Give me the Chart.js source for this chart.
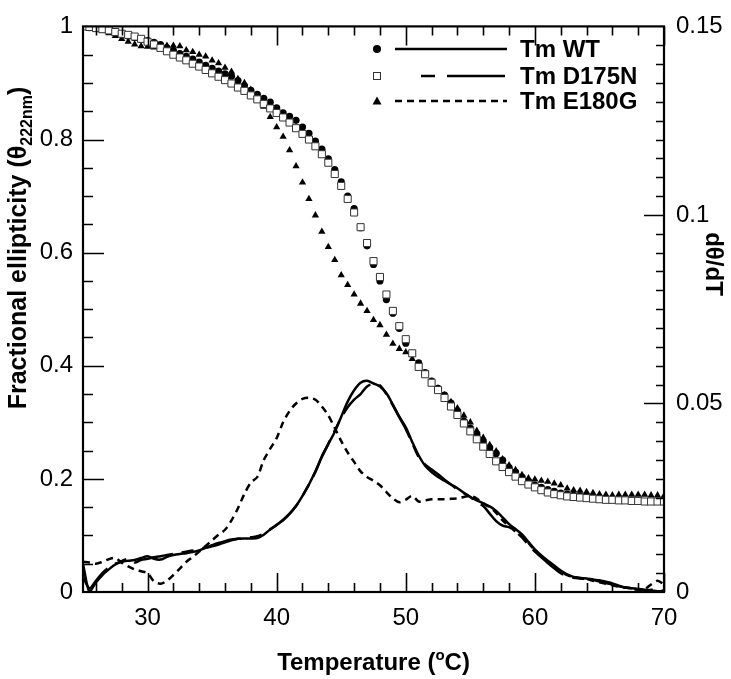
<!DOCTYPE html>
<html>
<head>
<meta charset="utf-8">
<title>Thermal unfolding</title>
<script src="https://cdn.jsdelivr.net/npm/chart.js@4.4.0/dist/chart.umd.min.js"></script>
<style>
  html, body { margin: 0; padding: 0; background: #fff; }
  #wrap { width: 731px; height: 679px; }
</style>
</head>
<body>
<div id="wrap"><canvas id="meltChart" width="731" height="679"></canvas></div>
<script>
// Temperature (°C), 0.5 degree steps
const temps = [
    25, 25.5, 26, 26.5, 27, 27.5, 28, 28.5, 29, 29.5,
    30, 30.5, 31, 31.5, 32, 32.5, 33, 33.5, 34, 34.5,
    35, 35.5, 36, 36.5, 37, 37.5, 38, 38.5, 39, 39.5,
    40, 40.5, 41, 41.5, 42, 42.5, 43, 43.5, 44, 44.5,
    45, 45.5, 46, 46.5, 47, 47.5, 48, 48.5, 49, 49.5,
    50, 50.5, 51, 51.5, 52, 52.5, 53, 53.5, 54, 54.5,
    55, 55.5, 56, 56.5, 57, 57.5, 58, 58.5, 59, 59.5,
    60, 60.5, 61, 61.5, 62, 62.5, 63, 63.5, 64, 64.5,
    65, 65.5, 66, 66.5, 67, 67.5, 68, 68.5, 69, 69.5,
    70
];

// Fractional ellipticity (left axis)
const wtFrac = [
    1.0, 0.998, 0.997, 0.995, 0.993, 0.99, 0.986, 0.983, 0.98, 0.977,
    0.975, 0.972, 0.968, 0.962, 0.957, 0.952, 0.947, 0.942, 0.937, 0.931,
    0.926, 0.921, 0.916, 0.912, 0.904, 0.895, 0.887, 0.88, 0.873, 0.866,
    0.856, 0.847, 0.841, 0.834, 0.822, 0.811, 0.797, 0.783, 0.766, 0.747,
    0.725, 0.70, 0.678, 0.644, 0.612, 0.579, 0.55, 0.517, 0.493, 0.466,
    0.44, 0.422, 0.405, 0.388, 0.373, 0.36, 0.348, 0.334, 0.32, 0.302,
    0.29, 0.279, 0.266, 0.255, 0.245, 0.233, 0.22, 0.212, 0.203, 0.196,
    0.189, 0.185, 0.181, 0.178, 0.175, 0.173, 0.171, 0.17, 0.168, 0.167,
    0.166, 0.165, 0.164, 0.163, 0.162, 0.161, 0.161, 0.16, 0.16, 0.16,
    0.16
];
const d175nFrac = [
    1.0, 0.999, 0.997, 0.995, 0.993, 0.99, 0.987, 0.985, 0.982, 0.978,
    0.973, 0.968, 0.962, 0.956, 0.95, 0.945, 0.94, 0.934, 0.929, 0.923,
    0.917, 0.911, 0.905, 0.899, 0.892, 0.886, 0.878, 0.871, 0.863, 0.855,
    0.847, 0.839, 0.83, 0.82, 0.81, 0.80, 0.788, 0.774, 0.759, 0.739,
    0.718, 0.695, 0.671, 0.645, 0.617, 0.585, 0.557, 0.526, 0.497, 0.47,
    0.447, 0.422, 0.398, 0.385, 0.37, 0.357, 0.343, 0.328, 0.313, 0.298,
    0.284, 0.27, 0.257, 0.244, 0.231, 0.221, 0.212, 0.204, 0.196, 0.19,
    0.185, 0.18, 0.176, 0.173, 0.171, 0.169, 0.168, 0.167, 0.166, 0.165,
    0.164, 0.163, 0.163, 0.162, 0.162, 0.161, 0.161, 0.16, 0.16, 0.16,
    0.16
];
const e180gFrac = [
    1.0, 0.998, 0.995, 0.992, 0.988, 0.983, 0.978, 0.973, 0.968, 0.965,
    0.964, 0.963, 0.965, 0.966, 0.966, 0.965, 0.958, 0.955, 0.95, 0.947,
    0.94, 0.935, 0.927, 0.92, 0.907, 0.9, 0.888, 0.876, 0.858, 0.84,
    0.822, 0.805, 0.781, 0.753, 0.724, 0.695, 0.666, 0.637, 0.61, 0.587,
    0.56, 0.543, 0.526, 0.51, 0.497, 0.481, 0.472, 0.455, 0.439, 0.43,
    0.424, 0.412, 0.398, 0.385, 0.372, 0.36, 0.348, 0.336, 0.325, 0.312,
    0.30, 0.285, 0.273, 0.26, 0.249, 0.235, 0.224, 0.216, 0.207, 0.201,
    0.199, 0.197, 0.195, 0.192, 0.189, 0.183, 0.18, 0.179, 0.177, 0.175,
    0.173, 0.172, 0.171, 0.172, 0.172, 0.172, 0.172, 0.172, 0.171, 0.171,
    0.17
];

// dθ/dT (right axis)
const wtDeriv = [
    0.0075, 0.0, 0.0025, 0.0045, 0.006, 0.0073, 0.008, 0.0083, 0.0085, 0.009,
    0.0095, 0.0088, 0.0086, 0.0093, 0.0098, 0.0101, 0.0103, 0.0106, 0.011, 0.0117,
    0.0121, 0.0126, 0.0132, 0.0137, 0.0141, 0.0142, 0.0142, 0.0143, 0.0152, 0.0166,
    0.0178, 0.019, 0.0207, 0.0228, 0.0255, 0.0285, 0.032, 0.0358, 0.0392, 0.0425,
    0.0465, 0.0505, 0.0535, 0.0555, 0.056, 0.0553, 0.0545, 0.0527, 0.0497, 0.0465,
    0.0437, 0.0398, 0.0362, 0.0335, 0.0318, 0.0305, 0.0295, 0.0285, 0.0275, 0.0263,
    0.0252, 0.0243, 0.0235, 0.0227, 0.0215, 0.0198, 0.018, 0.0167, 0.0153, 0.0133,
    0.0113, 0.0097, 0.0083, 0.007, 0.0057, 0.0047, 0.004, 0.0037, 0.0036, 0.0033,
    0.0031, 0.0027, 0.0023, 0.0017, 0.0012, 0.001, 0.0008, 0.0006, 0.0004, 0.0002,
    0.0003
];
const d175nDeriv = [
    0.004, 0.001, 0.003, 0.005, 0.0065, 0.0075, 0.0082, 0.0088, 0.0078, 0.0085,
    0.0088, 0.0092, 0.0095, 0.0098, 0.0101, 0.0104, 0.0107, 0.011, 0.0114, 0.0118,
    0.0124, 0.013, 0.0135, 0.0139, 0.0141, 0.0143, 0.0145, 0.0148, 0.0155, 0.0166,
    0.0178, 0.0192, 0.0208, 0.0228, 0.0255, 0.0285, 0.0318, 0.036, 0.0393, 0.0428,
    0.0462, 0.049, 0.051, 0.0525, 0.0545, 0.0552, 0.0548, 0.0525, 0.0495, 0.0463,
    0.0432, 0.0395, 0.0358, 0.0338, 0.0325, 0.0312, 0.0298, 0.0285, 0.0272, 0.0262,
    0.0252, 0.0238, 0.0228, 0.0208, 0.0188, 0.0176, 0.0172, 0.016, 0.0145, 0.0125,
    0.0107, 0.0092, 0.0077, 0.0063, 0.005, 0.0043, 0.0038, 0.0036, 0.0034, 0.0032,
    0.0028, 0.0024, 0.002, 0.0015, 0.0012, 0.001, 0.0008, 0.0004, 0.0006, 0.0004,
    0.0003
];
const e180gDeriv = [
    0.008, 0.0078, 0.0075, 0.008, 0.0087, 0.009, 0.0078, 0.0068, 0.006, 0.0055,
    0.005, 0.0028, 0.0022, 0.003, 0.0045, 0.0062, 0.008, 0.0093, 0.0107, 0.0122,
    0.0137, 0.0152, 0.0165, 0.019, 0.0222, 0.026, 0.029, 0.0305, 0.035, 0.038,
    0.0408, 0.045, 0.048, 0.050, 0.0512, 0.0515, 0.051, 0.0492, 0.0468, 0.0435,
    0.04, 0.037, 0.0345, 0.032, 0.0305, 0.0295, 0.0283, 0.0265, 0.0248, 0.0238,
    0.0245, 0.0255, 0.024, 0.0243, 0.0246, 0.0246, 0.0246, 0.0247, 0.0248, 0.0252,
    0.0255, 0.0248, 0.0235, 0.0225, 0.021, 0.019, 0.0175, 0.016, 0.0148, 0.013,
    0.011, 0.0095, 0.008, 0.0066, 0.0055, 0.0045, 0.004, 0.0037, 0.0034, 0.003,
    0.0026, 0.0022, 0.0018, 0.0014, 0.0012, 0.0009, 0.0006, 0.0008, 0.002, 0.003,
    0.002
];

const xTicks = [30, 40, 50, 60, 70];
const leftTicks = [0, 0.2, 0.4, 0.6, 0.8, 1];
const rightTicks = [0, 0.05, 0.1, 0.15];
const legendLabels = ["Tm WT", "Tm D175N", "Tm E180G"];

const FONT = "'Liberation Sans', Arial, sans-serif";
const toPoints = (ys) => temps.map((t, i) => ({ x: t, y: ys[i] }));

// inward ticks on all four sides + frame
const frameTicks = {
    id: "frameTicks",
    afterDraw(chart) {
        const { ctx, chartArea: a, scales } = chart;
        ctx.save();
        ctx.strokeStyle = "#000";
        ctx.lineWidth = 1.6;
        ctx.beginPath();
        // x: minor every 2, major every 10
        for (let i = 13; i <= 35; i++) {
            const px = Math.round(scales.x.getPixelForValue(i * 2)) + 0.5;
            const len = (i * 2) % 10 === 0 ? 19 : 9;
            ctx.moveTo(px, a.bottom); ctx.lineTo(px, a.bottom - len);
            ctx.moveTo(px, a.top); ctx.lineTo(px, a.top + len);
        }
        // left: minor every 0.05, major every 0.2
        for (let i = 1; i < 20; i++) {
            const py = Math.round(scales.y.getPixelForValue(i * 0.05)) + 0.5;
            const len = i % 4 === 0 ? 21 : 10;
            ctx.moveTo(a.left, py); ctx.lineTo(a.left + len, py);
        }
        // right: minor every 0.005, major every 0.05
        for (let i = 1; i < 30; i++) {
            const py = Math.round(scales.y2.getPixelForValue(i * 0.005)) + 0.5;
            const len = i % 10 === 0 ? 20 : 8;
            ctx.moveTo(a.right, py); ctx.lineTo(a.right - len, py);
        }
        ctx.stroke();
        ctx.lineWidth = 2.2;
        ctx.strokeRect(a.left, a.top, a.right - a.left, a.bottom - a.top);
        ctx.restore();
    }
};

// axis titles with sub/superscripts
const axisTitles = {
    id: "axisTitles",
    afterDraw(chart) {
        const { ctx, chartArea: a } = chart;
        ctx.save();
        ctx.fillStyle = "#000";
        ctx.textBaseline = "alphabetic";
        const big = "bold 24px " + FONT;
        const small = "bold 15px " + FONT;

        // bottom title
        const parts = [["Temperature (", big, 0], ["o", small, -10], ["C)", big, 0]];
        let w = 0;
        parts.forEach(p => { ctx.font = p[1]; w += ctx.measureText(p[0]).width; });
        let x = (a.left + a.right) / 2 - w / 2;
        parts.forEach(p => { ctx.font = p[1]; ctx.fillText(p[0], x, 670 + p[2]); x += ctx.measureText(p[0]).width; });

        // left title, rotated
        const lbig = "bold 25px " + FONT;
        const lsmall = "bold 16px " + FONT;
        const lparts = [["Fractional ellipticity (\u03B8", lbig, 0], ["222nm", lsmall, 6], [")", lbig, 0]];
        w = 0;
        lparts.forEach(p => { ctx.font = p[1]; w += ctx.measureText(p[0]).width; });
        ctx.save();
        ctx.translate(26, 248);
        ctx.rotate(-Math.PI / 2);
        x = -w / 2;
        lparts.forEach(p => { ctx.font = p[1]; ctx.fillText(p[0], x, p[2]); x += ctx.measureText(p[0]).width; });
        ctx.restore();

        // right title, rotated clockwise
        ctx.save();
        ctx.translate(706, 264);
        ctx.rotate(Math.PI / 2);
        ctx.font = big;
        ctx.textAlign = "center";
        ctx.fillText("d\u03B8/dT", 0, 0);
        ctx.restore();
        ctx.restore();
    }
};

// legend: marker + line style + label
const markerLegend = {
    id: "markerLegend",
    afterDraw(chart) {
        const { ctx } = chart;
        const rows = [49, 76, 101];
        const dashes = [[], [14, 12, 53, 0], [7, 5]];
        ctx.save();
        ctx.fillStyle = "#000";
        ctx.strokeStyle = "#000";
        rows.forEach((y, i) => {
            const mx = 377;
            ctx.lineWidth = 1;
            ctx.setLineDash([]);
            if (i === 0) {
                ctx.beginPath(); ctx.arc(mx, y, 4, 0, Math.PI * 2); ctx.fill();
            } else if (i === 1) {
                ctx.strokeStyle = "#333";
                ctx.strokeRect(mx - 3.5, y - 3.5, 7, 7);
                ctx.strokeStyle = "#000";
            } else {
                ctx.beginPath(); ctx.moveTo(mx, y - 4.5); ctx.lineTo(mx + 4.5, y + 3.5); ctx.lineTo(mx - 4.5, y + 3.5); ctx.closePath(); ctx.fill();
            }
            ctx.lineWidth = 2.4;
            ctx.setLineDash(dashes[i]);
            ctx.beginPath();
            if (i === 1) { ctx.moveTo(421, y); ctx.lineTo(505, y); }
            else { ctx.moveTo(395, y); ctx.lineTo(507, y); }
            ctx.stroke();
            ctx.setLineDash([]);
            ctx.font = "bold 24px " + FONT;
            ctx.textBaseline = "middle";
            ctx.fillText(legendLabels[i], 520, y + 1);
        });
        ctx.restore();
    }
};

const tickFont = { family: FONT, size: 24 };
const fmt = (v) => String(+Number(v).toFixed(3));

new Chart(document.getElementById("meltChart").getContext("2d"), {
    data: {
        datasets: [
            { type: "line", label: "WT dθ/dT", data: toPoints(wtDeriv), yAxisID: "y2",
              borderColor: "#000", borderWidth: 2.5, pointRadius: 0, tension: 0.3, fill: false },
            { type: "line", label: "D175N dθ/dT", data: toPoints(d175nDeriv), yAxisID: "y2",
              borderColor: "#000", borderWidth: 2.5, pointRadius: 0, tension: 0.3, fill: false,
              borderDash: [40, 9, 12, 9] },
            { type: "line", label: "E180G dθ/dT", data: toPoints(e180gDeriv), yAxisID: "y2",
              borderColor: "#000", borderWidth: 2.5, pointRadius: 0, tension: 0.3, fill: false,
              borderDash: [7, 5] },
            { type: "scatter", label: "Tm D175N", data: toPoints(d175nFrac), yAxisID: "y",
              pointStyle: "rect", pointRadius: 5, backgroundColor: "#fff", borderColor: "#333", borderWidth: 1 },
            { type: "scatter", label: "Tm E180G", data: toPoints(e180gFrac), yAxisID: "y",
              pointStyle: "triangle", pointRadius: 4.2, backgroundColor: "#000", borderColor: "#000", borderWidth: 0 },
            { type: "scatter", label: "Tm WT", data: toPoints(wtFrac), yAxisID: "y",
              pointStyle: "circle", pointRadius: 3.6, backgroundColor: "#000", borderColor: "#000", borderWidth: 0 }
        ]
    },
    options: {
        responsive: false,
        animation: false,
        events: [],
        layout: { padding: { top: 12, left: 0, right: 0, bottom: 0 } },
        plugins: { legend: { display: false }, tooltip: { enabled: false } },
        scales: {
            x: {
                type: "linear", min: 25, max: 70,
                grid: { display: false, drawTicks: false },
                border: { display: false },
                afterBuildTicks: (s) => { s.ticks = xTicks.map(v => ({ value: v })); },
                afterFit: (s) => { s.height = 87; },
                ticks: { padding: 12, color: "#000", font: tickFont, maxRotation: 0, callback: fmt }
            },
            y: {
                type: "linear", position: "left", min: 0, max: 1,
                grid: { display: false, drawTicks: false },
                border: { display: false },
                afterBuildTicks: (s) => { s.ticks = leftTicks.map(v => ({ value: v })); },
                afterFit: (s) => { s.width = 83; },
                ticks: { padding: 10, color: "#000", font: tickFont, callback: fmt }
            },
            y2: {
                type: "linear", position: "right", min: 0, max: 0.15,
                grid: { display: false, drawTicks: false },
                border: { display: false },
                afterBuildTicks: (s) => { s.ticks = rightTicks.map(v => ({ value: v })); },
                afterFit: (s) => { s.width = 67; },
                ticks: { padding: 12, color: "#000", font: tickFont, callback: fmt }
            }
        }
    },
    plugins: [frameTicks, axisTitles, markerLegend]
});
</script>
</body>
</html>
